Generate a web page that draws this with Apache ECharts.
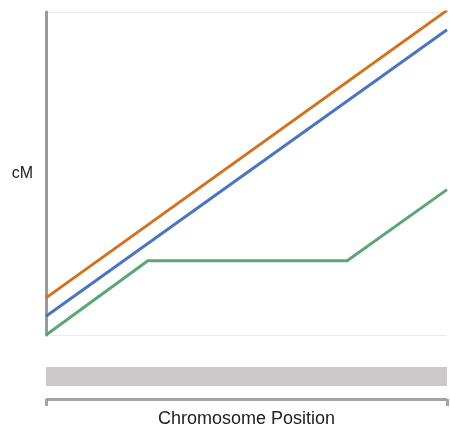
<!DOCTYPE html>
<html>
<head>
<meta charset="utf-8">
<script src="https://cdn.jsdelivr.net/npm/echarts@6/dist/echarts.min.js"></script>
<style>
  html, body { margin: 0; padding: 0; background: #fff; }
  #chart { width: 450px; height: 433px; }
</style>
</head>
<body>
<div id="chart"></div>
<script>
// chromosome position (0-100) and genetic map distance (cM)
const orangePos = [0, 100];
const orangeCM = [11.5, 100.5];
const bluePos = [0, 100];
const blueCM = [5.8, 94.5];
const greenPos = [0, 25.4, 75.1, 100];
const greenCM = [0, 23, 23, 45];

const pairs = (xs, ys) => xs.map((x, i) => [x, ys[i]]);

let myChart = echarts.init(document.getElementById('chart'));

let lineStyleOf = (color) => ({ color: color, width: 3 });

let options = {
  animation: false,
  grid: { left: 46, right: 3, top: 12, bottom: 94 },
  xAxis: [
    {
      type: 'value', min: 0, max: 100, interval: 100,
      axisLine: { show: false },
      axisTick: { show: false },
      axisLabel: { show: false },
      splitLine: { show: false }
    },
    {
      // chromosome bar
      type: 'value', min: 0, max: 100, position: 'bottom', offset: 41,
      axisLine: { show: true, lineStyle: { color: '#cdc8c9', width: 19, cap: 'butt' } },
      axisTick: { show: false },
      axisLabel: { show: false },
      splitLine: { show: false }
    },
    {
      // bracket with axis name
      type: 'value', min: 0, max: 100, interval: 100, position: 'bottom', offset: 64,
      axisLine: { show: true, lineStyle: { color: '#a3a3a3', width: 3, cap: 'butt' } },
      axisTick: { show: true, length: 7, lineStyle: { color: '#a3a3a3', width: 3 } },
      axisLabel: { show: false },
      splitLine: { show: false },
      name: 'Chromosome Position',
      nameLocation: 'middle',
      nameGap: 11,
      nameTextStyle: { fontFamily: 'Liberation Sans', fontSize: 18, color: '#222' }
    }
  ],
  yAxis: {
    type: 'value', min: 0, max: 100, interval: 100,
    name: 'cM',
    nameLocation: 'middle',
    nameRotate: 0,
    nameGap: 13,
    nameTextStyle: { fontFamily: 'Liberation Sans', fontSize: 16, color: '#222', padding: [4, 0, 0, 0] },
    axisLine: { show: true, lineStyle: { color: '#9a9a9a', width: 3 } },
    axisTick: { show: false },
    axisLabel: { show: false },
    splitLine: { show: true, lineStyle: { color: '#eaeaea', width: 1 } }
  },
  series: [
    {
      type: 'line', xAxisIndex: 0, data: pairs(orangePos, orangeCM),
      symbol: 'none', lineStyle: lineStyleOf('#d2711f')
    },
    {
      type: 'line', xAxisIndex: 0, data: pairs(bluePos, blueCM),
      symbol: 'none', lineStyle: lineStyleOf('#4a76c0')
    },
    {
      type: 'line', xAxisIndex: 0, data: pairs(greenPos, greenCM),
      symbol: 'none', lineStyle: lineStyleOf('#5ca676')
    }
  ]
};

myChart.setOption(options);
</script>
</body>
</html>
